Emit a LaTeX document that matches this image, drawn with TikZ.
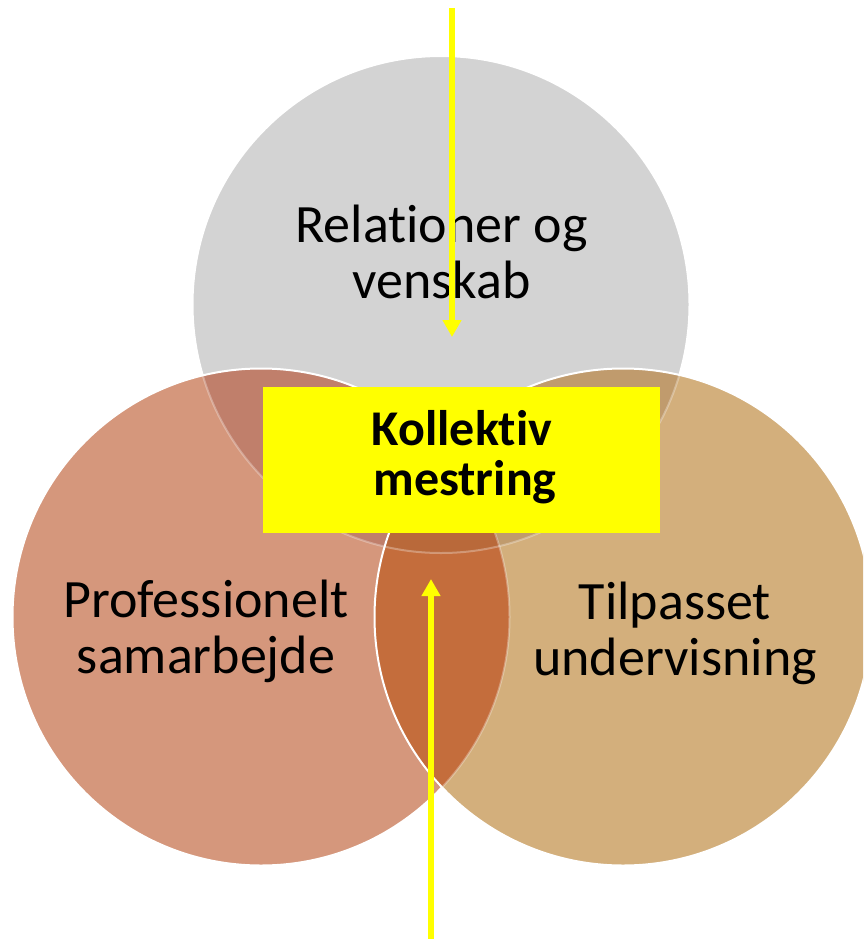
\documentclass[tikz,border=0pt]{standalone}
\usepackage{fontspec}
\setmainfont{Carlito}[Ligatures={NoCommon}]
\usetikzlibrary{arrows.meta}
\definecolor{cTop}{HTML}{D3D3D3}
\definecolor{cLeft}{HTML}{D5977C}
\definecolor{cRight}{HTML}{D3AF7C}
\definecolor{cLT}{HTML}{C07F6B}
\definecolor{cRT}{HTML}{C09B6D}
\definecolor{cLR}{HTML}{C46D3C}
\definecolor{cLRT}{HTML}{B9693A}
\definecolor{cYel}{HTML}{FFFF00}
\tikzset{
  rim/.style={draw=white, line width=2pt},
  faintrim/.style={draw=white, draw opacity=0.3, line width=2pt},
  lbl/.style={anchor=base, inner sep=0pt, font=\fontsize{54}{56}\selectfont},
  klbl/.style={anchor=base, inner sep=0pt, font=\fontsize{50}{50}\selectfont\bfseries},
  yarrow/.style={draw=cYel, line width=6pt, -{Triangle[width=18pt,length=17pt]}},
  ybox/.style={fill=cYel, minimum width=397pt, minimum height=146pt, inner sep=0pt, draw=none}
}
\begin{document}
\begin{tikzpicture}[x=1pt,y=-1pt]
\useasboundingbox (0,0) rectangle (863,939);
\clip (0,0) rectangle (863,939);
\coordinate (ct) at (441,304.5);
\coordinate (cl) at (261,617);
\coordinate (cr) at (623,617);
\def\rr{248.5}
% top circle
\fill[cTop] (ct) circle (\rr);
\draw[rim] (ct) circle (\rr);
% left circle
\fill[cLeft] (cl) circle (\rr);
\begin{scope}
  \clip (cl) circle (\rr);
  \fill[cLT] (ct) circle (\rr);
  \draw[faintrim] (ct) circle (\rr);
\end{scope}
\draw[rim] (cl) circle (\rr);
% right circle
\fill[cRight] (cr) circle (\rr);
\begin{scope}
  \clip (cr) circle (\rr);
  \fill[cRT] (ct) circle (\rr);
  \fill[cLR] (cl) circle (\rr);
  \begin{scope}
    \clip (cl) circle (\rr);
    \fill[cLRT] (ct) circle (\rr);
  \end{scope}
  \draw[faintrim] (ct) circle (\rr);
  \draw[faintrim] (cl) circle (\rr);
\end{scope}
\draw[rim] (cr) circle (\rr);
% labels
\node[lbl] (rel1) at (441.5,242) {Relationer og};
\node[lbl] (rel2) at (441.5,298) {venskab};
\node[lbl] (pro1) at (206,617) {Professionelt};
\node[lbl] (pro2) at (206,673) {samarbejde};
\node[lbl] (til1) at (675,619) {Tilpasset};
\node[lbl] (til2) at (675,675) {undervisning};
% arrows
\coordinate (ta) at (452,8);
\coordinate (tb) at (452,337);
\coordinate (ba) at (431,939);
\coordinate (bb) at (431,579);
\draw[yarrow] (ta) -- (tb);
\draw[yarrow] (ba) -- (bb);
% box
\node[ybox] (box) at (461.5,459.5) {};
\node[klbl] (kol1) at (462,445) {Kollektiv};
\node[klbl] (kol2) at (465,495) {mestring};
\end{tikzpicture}
\end{document}
